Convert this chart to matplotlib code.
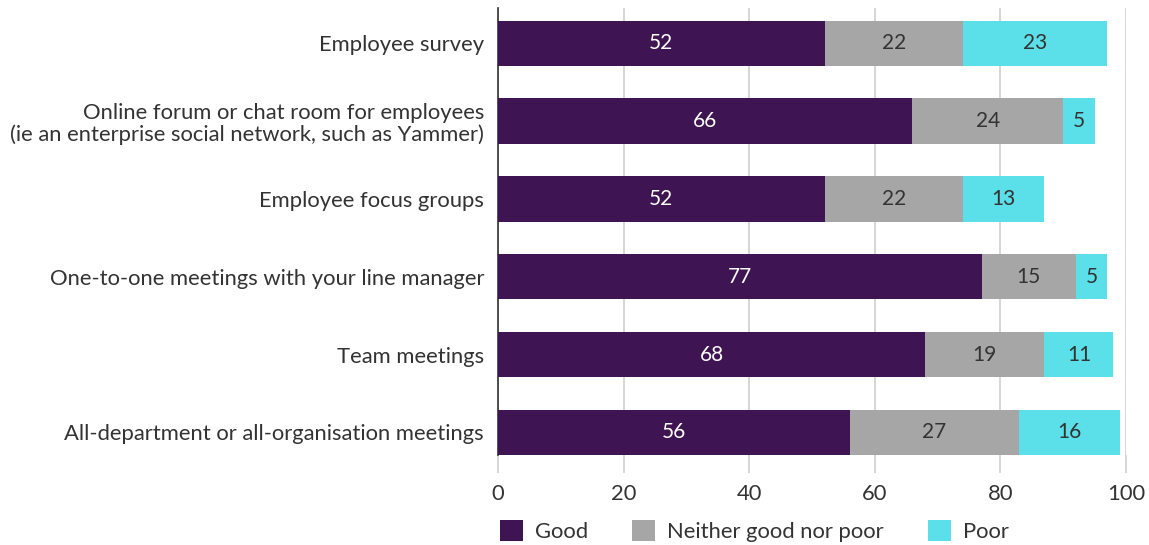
import matplotlib.pyplot as plt
import numpy as np

# Channels asked about, top to bottom
channels = [
    "Employee survey",
    "Online forum or chat room for employees\n(ie an enterprise social network, such as Yammer)",
    "Employee focus groups",
    "One-to-one meetings with your line manager",
    "Team meetings",
    "All-department or all-organisation meetings",
]
good = [52, 66, 52, 77, 68, 56]
neither = [22, 24, 22, 15, 19, 27]
poor = [23, 5, 13, 5, 11, 16]

series = [
    ("Good", good, "#3f1452", "white"),
    ("Neither good nor poor", neither, "#a6a6a6", "#333333"),
    ("Poor", poor, "#5bdfe8", "#333333"),
]

plt.rcParams["font.family"] = ["Lato", "DejaVu Sans"]
FS = 15.8

fig = plt.figure(figsize=(11.49, 5.45), dpi=100)
ax = fig.add_axes([0.4334, 0.165, 0.5466, 0.820])

y = np.arange(len(channels))
left = np.zeros(len(channels))
for name, vals, col, tcol in series:
    vals = np.array(vals, dtype=float)
    bars = ax.barh(y, vals, left=left, height=0.58, color=col, label=name, zorder=3)
    for b, v in zip(bars, vals):
        ax.text(b.get_x() + b.get_width() / 2, b.get_y() + b.get_height() / 2,
                f"{v:.0f}", ha="center", va="center", color=tcol,
                fontsize=15, zorder=4)
    left += vals

ax.set_xlim(0, 100)
ax.set_ylim(5.29, -0.45)
ax.set_yticks(y)
ax.set_yticklabels(channels, fontsize=FS, color="#333333", linespacing=1.1)
ax.set_xticks([0, 20, 40, 60, 80, 100])
ax.tick_params(axis="x", labelsize=FS, labelcolor="#333333", color="#d0d0d0",
               length=13, width=1.2, pad=8)
ax.tick_params(axis="y", length=0, pad=10)
ax.xaxis.get_major_ticks()[0].tick1line.set_color("#333333")

ax.grid(axis="x", color="#d0d0d0", linewidth=1.2, zorder=0)
for s in ["top", "right", "bottom"]:
    ax.spines[s].set_visible(False)
ax.spines["left"].set_color("#333333")
ax.spines["left"].set_linewidth(1.2)

leg = fig.legend(loc="lower left", bbox_to_anchor=(0.4325, 0.0), ncol=3,
                 frameon=False, fontsize=FS, handlelength=1.05, handleheight=1.1,
                 columnspacing=2.0, handletextpad=0.55, borderpad=0.15,
                 borderaxespad=0.0)
for t in leg.get_texts():
    t.set_color("#333333")

fig.savefig("out.png", dpi=100)
